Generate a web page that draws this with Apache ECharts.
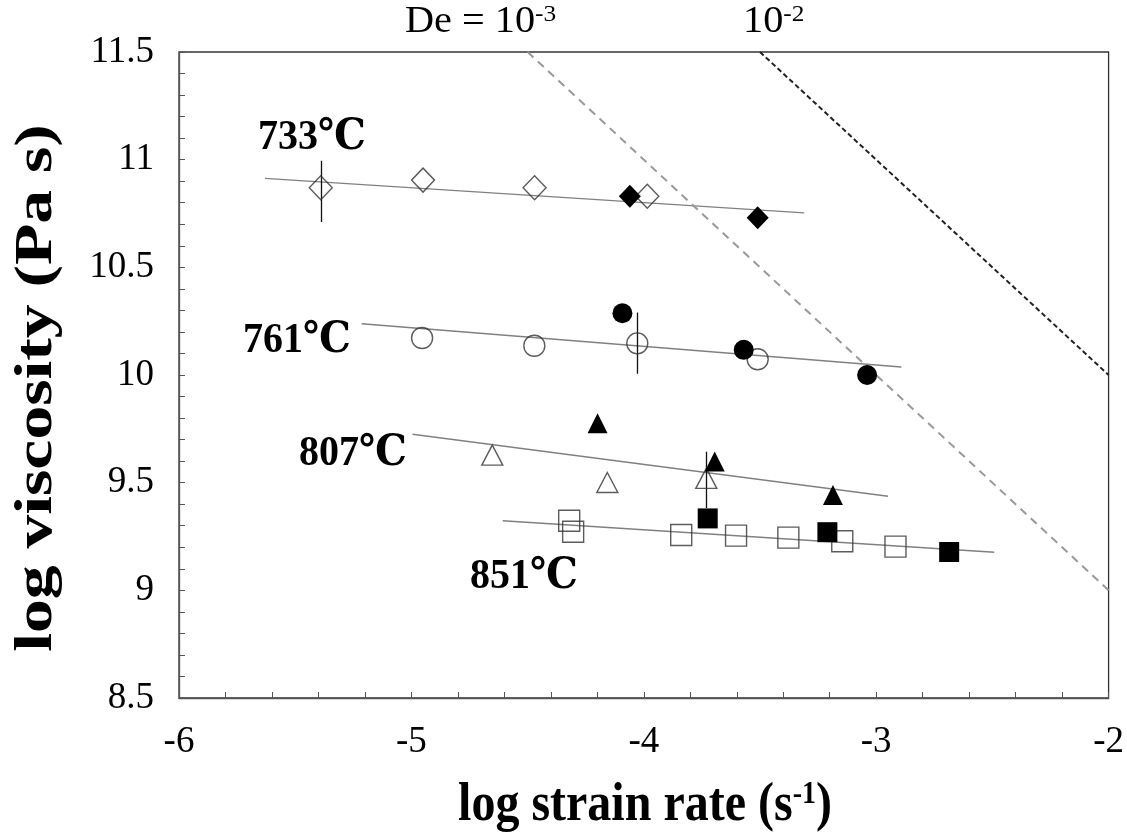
<!DOCTYPE html>
<html>
<head>
<meta charset="utf-8">
<title>log viscosity - log strain rate</title>
<script src="https://cdn.jsdelivr.net/npm/echarts/dist/echarts.min.js"></script>
<style>
html, body { margin: 0; padding: 0; background: #fff; }
#initTable { width: 1127px; height: 836px; }
</style>
</head>
<body>
<div id="initTable"></div>
<script>
// 数据-------------------------
var xRange = [-6, -2];
var yRange = [8.5, 11.5];

// 733℃
var open733   = [[-5.39, 10.87], [-4.95, 10.905], [-4.47, 10.87], [-3.985, 10.83]];
var filled733 = [[-4.06, 10.83], [-3.51, 10.73]];
var fit733    = [[-5.63, 10.913], [-3.31, 10.753]];
var err733    = [[-5.39, 10.995], [-5.39, 10.71]];

// 761℃
var open761   = [[-4.954, 10.172], [-4.471, 10.136], [-4.028, 10.147], [-3.51, 10.073]];
var filled761 = [[-4.092, 10.287], [-3.57, 10.117], [-3.039, 10.0]];
var fit761    = [[-5.214, 10.238], [-2.892, 10.037]];
var err761    = [[-4.028, 10.29], [-4.028, 10.006]];

// 807℃
var open807   = [[-4.652, 9.628], [-4.157, 9.501], [-3.731, 9.52]];
var filled807 = [[-4.199, 9.776], [-3.695, 9.598], [-3.186, 9.443]];
var fit807    = [[-4.995, 9.725], [-2.949, 9.437]];
var err807    = [[-3.731, 9.644], [-3.731, 9.382]];

// 851℃
var open851   = [[-4.321, 9.323], [-4.304, 9.272], [-3.839, 9.257], [-3.603, 9.254],
                 [-3.378, 9.245], [-3.146, 9.228], [-2.917, 9.203]];
var filled851 = [[-3.725, 9.334], [-3.21, 9.27], [-2.686, 9.178]];
var fit851    = [[-4.607, 9.323], [-2.492, 9.177]];

// Deborah 数线
var de3 = [[-4.5, 11.5], [-2, 9.0]];
var de2 = [[-3.5, 11.5], [-2, 10.0]];

// 标签
var tempLabels = ['733℃', '761℃', '807℃', '851℃'];
var xTitle = 'log strain rate (s{sup|-1})';
var yTitle = 'log viscosity (Pa s)';

// 图表实例化------------------
var myChart = echarts.init(document.getElementById('initTable'));
var serif = "'Liberation Serif', 'DejaVu Serif', 'Times New Roman', serif";

function openScatter(data, symbol, size) {
    return {
        type: 'scatter', data: data, symbol: symbol, symbolSize: size,
        silent: true, z: 5,
        itemStyle: { color: 'rgba(0,0,0,0)', borderColor: '#333', borderWidth: 1.4 }
    };
}
function filledScatter(data, symbol, size) {
    return {
        type: 'scatter', data: data, symbol: symbol, symbolSize: size,
        silent: true, z: 6,
        itemStyle: { color: '#000', opacity: 1 }
    };
}
function tempText(txt, x, y) {
    return {
        type: 'text', x: x, y: y, scaleY: 1.08,
        style: { text: txt, font: "bold 40px " + serif, fill: '#000', textAlign: 'left', textVerticalAlign: 'middle' }
    };
}

option = {
    animation: false,
    backgroundColor: '#fff',
    grid: {
        left: 179, right: 14, top: 52, bottom: 138,
        show: true, borderColor: '#333', borderWidth: 1.3
    },
    xAxis: {
        type: 'value',
        min: xRange[0], max: xRange[1], interval: 1,
        axisLine: { lineStyle: { color: '#555', width: 1.3 } },
        axisTick: { inside: true, length: 6, lineStyle: { color: '#555' } },
        minorTick: { show: true, splitNumber: 5, length: 6, lineStyle: { color: '#555' } },
        splitLine: { show: false },
        axisLabel: { fontFamily: serif, fontSize: 37, color: '#000', margin: 26 }
    },
    yAxis: {
        type: 'value',
        min: yRange[0], max: yRange[1], interval: 0.5,
        axisLine: { lineStyle: { color: '#555', width: 1.3 } },
        axisTick: { inside: true, length: 6, lineStyle: { color: '#555' } },
        minorTick: { show: true, splitNumber: 5, length: 6, lineStyle: { color: '#555' } },
        splitLine: { show: false },
        axisLabel: { fontFamily: serif, fontSize: 37, color: '#000', margin: 25 }
    },
    graphic: [
        tempText(tempLabels[0], 258, 138),
        tempText(tempLabels[1], 243, 341),
        tempText(tempLabels[2], 299, 454),
        tempText(tempLabels[3], 470, 577),
        {
            type: 'text', x: 405, y: 22, scaleX: 1.15, scaleY: 1.06,
            style: {
                text: 'De = 10{s|-3}', fontFamily: serif, fontSize: 35, fill: '#000',
                textAlign: 'left', textVerticalAlign: 'middle',
                rich: { s: { fontFamily: serif, fontSize: 22, verticalAlign: 'top' } }
            }
        },
        {
            type: 'text', x: 743, y: 22, scaleX: 1.15, scaleY: 1.06,
            style: {
                text: '10{s|-2}', fontFamily: serif, fontSize: 35, fill: '#000',
                textAlign: 'left', textVerticalAlign: 'middle',
                rich: { s: { fontFamily: serif, fontSize: 22, verticalAlign: 'top' } }
            }
        },
        // 坐标轴标题
        {
            type: 'text', x: 645, y: 806, scaleY: 1.15,
            style: {
                text: xTitle, fontFamily: serif, fontSize: 48, fontWeight: 'bold', fill: '#000',
                textAlign: 'center', textVerticalAlign: 'middle',
                rich: { sup: { fontFamily: serif, fontSize: 28, fontWeight: 'bold', verticalAlign: 'top' } }
            }
        },
        {
            type: 'text', x: 38, y: 388, rotation: Math.PI / 2, scaleX: 1.3,
            style: {
                text: yTitle, font: "bold 52px " + serif, fill: '#000',
                textAlign: 'center', textVerticalAlign: 'middle'
            }
        }
    ],
    series: [
        // 拟合线
        {
            type: 'lines', coordinateSystem: 'cartesian2d', silent: true, z: 2,
            lineStyle: { color: '#808080', width: 1.4, opacity: 1 },
            data: [{ coords: fit733 }, { coords: fit761 }, { coords: fit807 }, { coords: fit851 }]
        },
        // De = 10^-3
        {
            type: 'lines', coordinateSystem: 'cartesian2d', silent: true, z: 3,
            lineStyle: { color: '#999', width: 2, type: [8, 6], opacity: 1 },
            data: [{ coords: de3 }]
        },
        // De = 10^-2
        {
            type: 'lines', coordinateSystem: 'cartesian2d', silent: true, z: 3,
            lineStyle: { color: '#222', width: 2, type: [5, 3], opacity: 1 },
            data: [{ coords: de2 }]
        },
        // 误差棒
        {
            type: 'lines', coordinateSystem: 'cartesian2d', silent: true, z: 4,
            lineStyle: { color: '#111', width: 1.3, opacity: 1 },
            data: [{ coords: err733 }, { coords: err761 }, { coords: err807 }]
        },
        openScatter(open733, 'diamond', [23, 24]),
        openScatter(open761, 'circle', 21),
        openScatter(open807, 'triangle', [21, 20]),
        openScatter(open851, 'rect', 21),
        filledScatter(filled733, 'diamond', [22, 23]),
        filledScatter(filled761, 'circle', 20),
        filledScatter(filled807, 'triangle', [20, 20]),
        filledScatter(filled851, 'rect', 20)
    ]
};

myChart.setOption(option);
</script>
</body>
</html>
